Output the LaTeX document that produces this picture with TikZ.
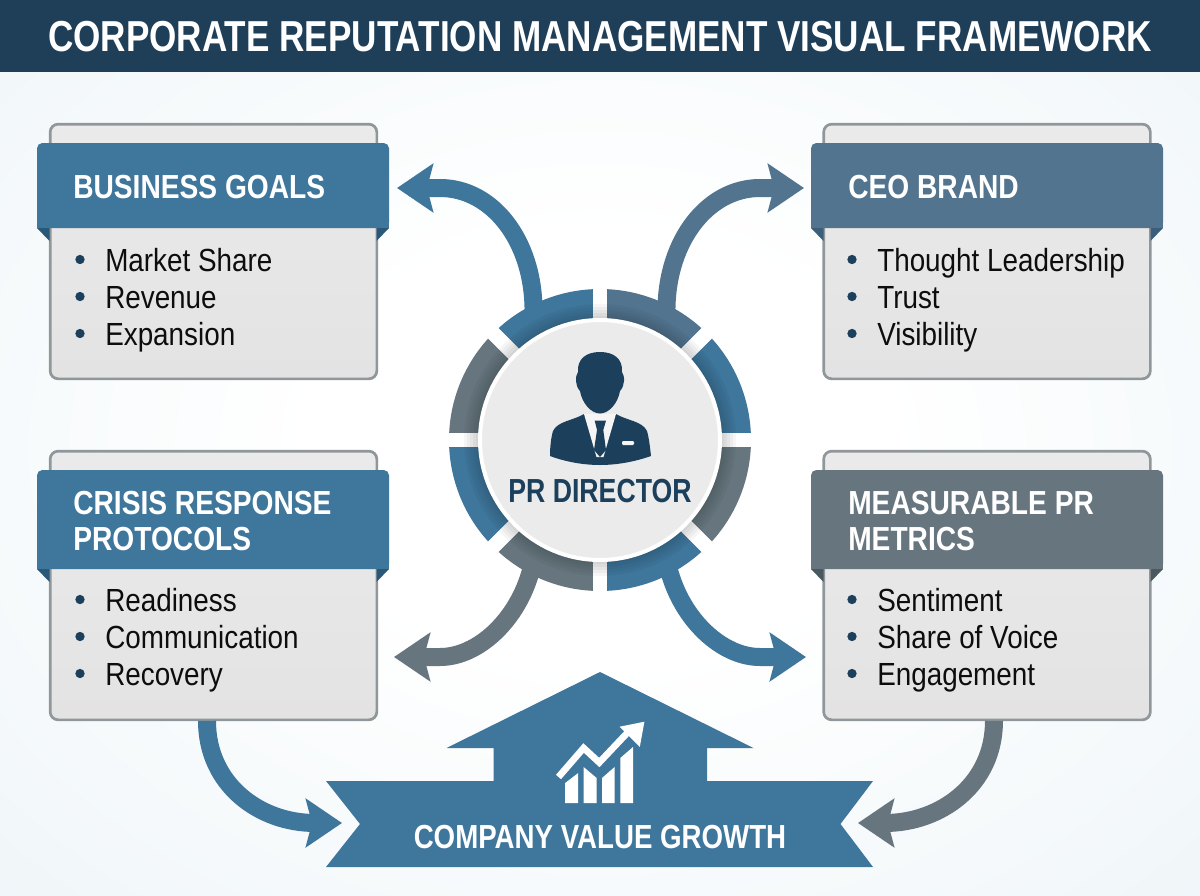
\documentclass[tikz,border=0pt]{standalone}
\usepackage{fontspec}
\setmainfont{Liberation Sans}[FakeStretch=0.87]
\newfontfamily\titlefont{Liberation Sans}[FakeStretch=0.81]
\newfontfamily\headfont{Liberation Sans}[FakeStretch=0.845]
\newfontfamily\dirfont{Liberation Sans}[FakeStretch=0.80]
\newfontfamily\growthfont{Liberation Sans}[FakeStretch=0.83]
\usetikzlibrary{arrows.meta,calc}
\definecolor{bandnavy}{HTML}{1F3F59}
\definecolor{inknavy}{HTML}{1C3F5C}
\definecolor{stblue}{HTML}{3F769C}
\definecolor{stslate}{HTML}{52748F}
\definecolor{stgray}{HTML}{66757E}
\definecolor{foldblue}{HTML}{2A5878}
\definecolor{foldslate}{HTML}{3B5F7B}
\definecolor{foldgray}{HTML}{4A5860}
\definecolor{bgedge}{HTML}{E4EFF4}
\definecolor{rimgray}{HTML}{90979A}
\pgfdeclareradialshading{bgglow}{\pgfpoint{0bp}{0bp}}{color(0bp)=(white); color(12bp)=(white); color(54bp)=(bgedge); color(100bp)=(bgedge)}
\tikzset{
  bodybox/.style={draw=rimgray,line width=2pt,top color=black!8,bottom color=black!11,rounded corners=6pt,minimum width=245pt,outer sep=0pt},
  headbox/.style={rounded corners=4pt,minimum width=264pt,outer sep=0pt},
  headtext/.style={anchor=base west,inner sep=0pt,text=white,font=\headfont\bfseries\fontsize{25}{28}\selectfont},
  itemtext/.style={anchor=base west,inner sep=0pt,text=black!95,font=\fontsize{24}{27}\selectfont},
  dot/.style={circle,fill=inknavy,minimum size=7pt,inner sep=0pt},
  flow/.style={line width=13.5pt,-{Stealth[length=27pt,width=36pt,inset=4.5pt]}}
}
\begin{document}
\begin{tikzpicture}[x=0.75pt,y=0.75pt,yscale=-1,xscale=1]
\useasboundingbox (0,0) rectangle (1200,896);

%Shape: Background
\shade [shading=bgglow] (0,0) rectangle (1200,896);
%Shape: Title band
\fill [bandnavy] (0,0) rectangle (1200,72);
% Text Node
\draw (600,37) node [inner sep=0pt,text=white,font=\titlefont\bfseries\fontsize{32.5}{36}\selectfont] (title) {CORPORATE REPUTATION MANAGEMENT VISUAL FRAMEWORK};

%Shape: Panels
\draw (213.5,251.5) node [bodybox,minimum height=191pt] (bdgoals) {};
\draw (987,251.5) node [bodybox,minimum height=191pt] (bdceo) {};
\draw (213.5,585.5) node [bodybox,minimum height=201.5pt] (bdcrisis) {};
\draw (987,585.5) node [bodybox,minimum height=201.5pt] (bdmetrics) {};

%Shape: Panel headers
\draw (213,185.5) node [headbox,fill=stblue,minimum height=63.75pt] (hdgoals) {};
\draw (987,185.5) node [headbox,fill=stslate,minimum height=63.75pt] (hdceo) {};
\draw (213,519.5) node [headbox,fill=stblue,minimum height=74.25pt] (hdcrisis) {};
\draw (987,519.5) node [headbox,fill=stgray,minimum height=74.25pt] (hdmetrics) {};
\foreach \hd/\top/\fold in {hdgoals/stblue/foldblue,hdceo/stslate/foldslate,hdcrisis/stblue/foldblue,hdmetrics/stgray/foldgray} {
  \fill [\top] (\hd.south west) rectangle +(9,-9);
  \fill [\top] (\hd.south east) rectangle +(-9,-9);
  \fill [\fold] (\hd.south west) -- +(12.5,0) -- +(12.5,13) -- cycle;
  \fill [\fold] (\hd.south east) -- +(-12.5,0) -- +(-12.5,13) -- cycle;
}

% Text Node
\draw (73,198) node [headtext] (tgoals) {BUSINESS GOALS};
\draw (848,198) node [headtext] (tceo) {CEO BRAND};
\draw (73,514) node [headtext] (tcrisisa) {CRISIS RESPONSE};
\draw (73,550) node [headtext] (tcrisisb) {PROTOCOLS};
\draw (848,514) node [headtext] (tmetricsa) {MEASURABLE PR};
\draw (848,550) node [headtext] (tmetricsb) {METRICS};

% Text Node
\foreach \n/\x/\y/\t in {ga/105/271/Market Share,gb/105/308/Revenue,gc/105/345/Expansion,
    ca/877/271/Thought Leadership,cb/877/308/Trust,cc/877/345/Visibility,
    ra/105/611/Readiness,rb/105/648/Communication,rc/105/685/Recovery,
    ma/877/611/Sentiment,mb/877/648/Share of Voice,mc/877/685/Engagement} {
  \draw (\x,\y) node [itemtext] (\n) {\t};
  \draw (\x-25,\y-11.5) node [dot] (dot\n) {};
}

%Shape: Ring round the director
\foreach \a/\col in {0/stgray,45/stblue,90/stgray,135/stblue,180/stgray,225/stblue,270/stslate,315/stblue} {
  \fill [\col] ($(600,440)+(\a:151)$) arc (\a:\a+45:151) -- ($(600,440)+(\a+45:112)$) arc (\a+45:\a:112) -- cycle;
}
\foreach \a in {0,45,90,135} {
  \draw [white,line width=11pt] ($(600,440)+(\a:158)$) -- ($(600,440)+(\a+180:158)$);
}
\foreach \r in {124,127,130,133,136} {
  \fill [black,opacity=0.035] (600,440) circle (\r);
}

%Shape: Director circle
\draw (600,440) node [circle,draw=white,line width=3pt,fill=black!8,minimum size=180pt,inner sep=0pt,outer sep=0pt] (dir) {};
% Text Node
\draw (600,491) node [inner sep=0pt,text=inknavy,font=\dirfont\bfseries\fontsize{25}{28}\selectfont] (dirname) {PR DIRECTOR};

%Shape: Person
\fill [inknavy] (600,352) .. controls (586,352) and (577,359) .. (578,372) .. controls (575,376) and (575,386) .. (580,391) .. controls (582,403) and (591,413.5) .. (600,413.5) .. controls (609,413.5) and (618,403) .. (620,391) .. controls (625,386) and (625,376) .. (622,372) .. controls (623,359) and (614,352) .. (600,352) -- cycle;
\fill [inknavy] (584,414) .. controls (572,421) and (558,421) .. (553,431) .. controls (551,438) and (550,447) .. (550,456) .. controls (566,462) and (584,465) .. (600,465) .. controls (616,465) and (634,462) .. (651,456) .. controls (650,447) and (649,438) .. (647,431) .. controls (642,421) and (628,421) .. (616,414) -- cycle;
\fill [black!4] (584,414) -- (596.5,457) -- (603.5,457) -- (616,414) -- cycle;
\fill [inknavy] (594.7,420.7) -- (606,420.7) -- (603.3,430) -- (606,450) -- (600,457) -- (594,450) -- (597,430) -- cycle;
\fill [black!4,rounded corners=0.8pt] (622,441) rectangle (634,445);

%Straight Lines
\draw [flow,stblue] ($(dir)!1.22!(dir.117)$) .. controls (533,240) and (492,188) .. (440,188) -- ($(hdgoals.east)+(8,2.5)$);
\draw [flow,stslate] ($(dir)!1.22!(dir.63)$) .. controls (667,240) and (708,188) .. (760,188) -- ($(hdceo.west)+(-7,2.5)$);
\draw [flow,stgray] ($(dir)!1.22!(dir.242)$) .. controls (518,620) and (478,657) .. (440,657) -- ($(hdcrisis.east)+(5,137.5)$);
\draw [flow,stblue] ($(dir)!1.22!(dir.298)$) .. controls (682,620) and (722,657) .. (760,657) -- ($(hdmetrics.west)+(-5,137.5)$);

%Shape: Growth banner
\fill [stblue] (600,672) -- (753.5,748) -- (707,748) -- (707,781) -- (873,781) -- (840.5,824) coordinate (notchright) -- (873,867) -- (326,867) -- (360,824) coordinate (notchleft) -- (326,781) -- (493.5,781) -- (493.5,748) -- (446.5,748) -- cycle;
% Text Node
\draw (600,837) node [inner sep=0pt,text=white,font=\growthfont\bfseries\fontsize{25}{28}\selectfont] (growth) {COMPANY VALUE GROWTH};

%Shape: Chart icon
\fill [white] (565.2,783) -- (578.2,773) -- (578.2,803) -- (565.2,803) -- cycle;
\fill [white] (583.6,767) -- (596.6,778) -- (596.6,803) -- (583.6,803) -- cycle;
\fill [white] (602,778) -- (614.6,767) -- (614.6,803) -- (602,803) -- cycle;
\fill [white] (620.3,758) -- (633,747) -- (633,803) -- (620.3,803) -- cycle;
\draw [white,line width=5pt] (558.5,777) -- (583.6,748) -- (599.3,762.5) -- (630,730);
\fill [white] (644.4,721.7) -- (619.6,726.7) -- (639.8,747) -- cycle;

%Curve Lines
\draw [flow,stblue] ($(bdcrisis.south)+(-6.5,1)$) .. controls (207,785) and (260,823) .. (315,823) -- ($(notchleft)+(-18,-1)$);
\draw [flow,stgray] ($(bdmetrics.south)+(7,1)$) .. controls (994,785) and (940,823) .. (885,823) -- ($(notchright)+(17.5,-1)$);

\end{tikzpicture}
\end{document}
